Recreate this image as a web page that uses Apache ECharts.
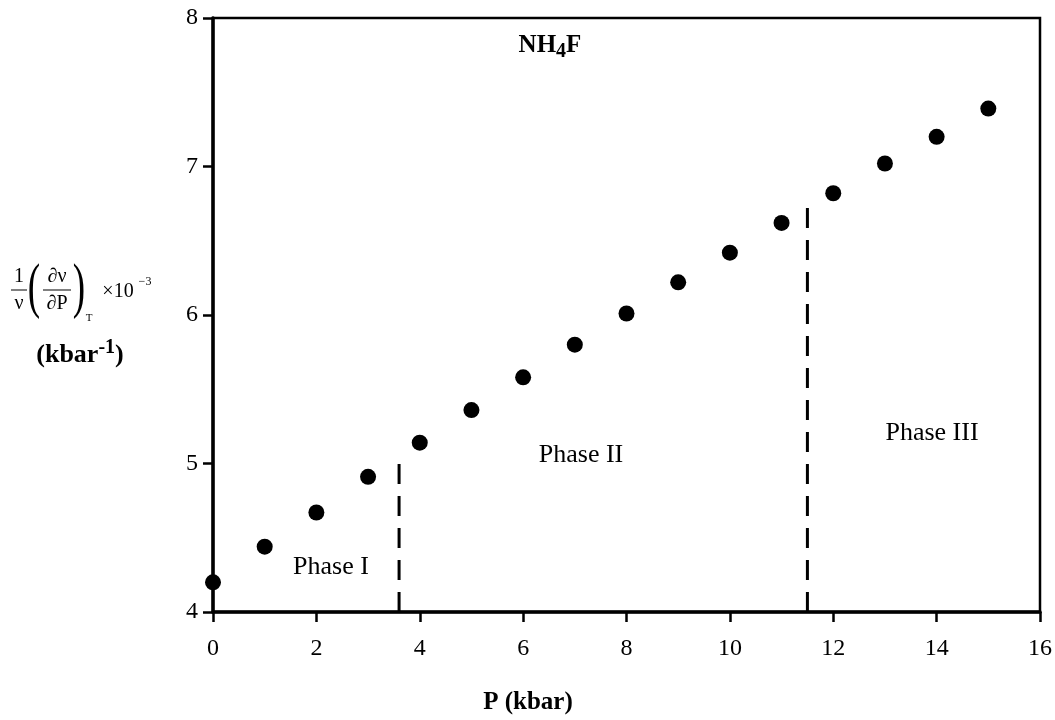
<!DOCTYPE html>
<html>
<head>
<meta charset="utf-8">
<script src="https://cdn.jsdelivr.net/npm/echarts@6/dist/echarts.min.js"></script>
<style>
  html, body { margin: 0; padding: 0; background: #fff; }
  #chart { width: 1055px; height: 720px; }
</style>
</head>
<body>
<div id="chart"></div>
<script>
  // pressure (kbar) and compressibility readings
  let pressure = [0, 1, 2, 3, 4, 5, 6, 7, 8, 9, 10, 11, 12, 13, 14, 15];
  let compress = [4.20, 4.44, 4.67, 4.91, 5.14, 5.36, 5.58, 5.80, 6.01, 6.22, 6.42, 6.62, 6.82, 7.02, 7.20, 7.39];
  // phase boundaries: [pressure, top of dashed line]
  let boundaryI = [3.6, 5.07];
  let boundaryII = [11.5, 6.75];
  let phaseNames = ['Phase I', 'Phase II', 'Phase III'];

  let font = '"Liberation Serif", "Times New Roman", serif';
  let chart = echarts.init(document.getElementById('chart'));

  let points = pressure.map((p, i) => [p, compress[i]]);

  function txt(x, y, s, f, extra) {
    return Object.assign({
      type: 'text', x: x, y: y,
      style: { text: s, font: f + ' ' + font, fill: '#000', align: 'center', verticalAlign: 'middle' }
    }, extra || {});
  }

  let options = {
    animation: false,
    grid: {
      left: 213,
      right: 15,
      top: 18,
      bottom: 108,
      show: true,
      borderColor: '#000',
      borderWidth: 2.5
    },
    xAxis: {
      type: 'value',
      min: 0,
      max: 16,
      interval: 2,
      splitLine: { show: false },
      axisLine: { onZero: false, lineStyle: { color: '#000', width: 3.5 } },
      axisTick: { show: true, length: 10, lineStyle: { color: '#000', width: 2.5 } },
      axisLabel: { color: '#000', fontFamily: font, fontSize: 24, margin: 25 }
    },
    yAxis: {
      type: 'value',
      min: 4,
      max: 8,
      interval: 1,
      splitLine: { show: false },
      axisLine: { onZero: false, lineStyle: { color: '#000', width: 3.5 } },
      axisTick: { show: true, length: 10, lineStyle: { color: '#000', width: 2.5 } },
      axisLabel: { color: '#000', fontFamily: font, fontSize: 24, margin: 15 }
    },
    series: [
      {
        type: 'line',
        data: [[boundaryI[0], 4], [boundaryI[0], boundaryI[1]]],
        symbol: 'none',
        lineStyle: { color: '#000', width: 3, type: [20, 12] },
        z: 2
      },
      {
        type: 'line',
        data: [[boundaryII[0], 4], [boundaryII[0], boundaryII[1]]],
        symbol: 'none',
        lineStyle: { color: '#000', width: 3, type: [20, 12] },
        z: 2
      },
      {
        type: 'scatter',
        data: points,
        symbol: 'circle',
        symbolSize: 16,
        itemStyle: { color: '#000', opacity: 1 },
        z: 5
      }
    ],
    graphic: [
      // title
      {
        type: 'text', x: 550, y: 46,
        style: {
          rich: {
            b: { fontFamily: font, fontSize: 25, fontWeight: 'bold', fill: '#000' },
            s: { fontFamily: font, fontSize: 20, fontWeight: 'bold', fill: '#000', padding: [12, 0, 0, 0] }
          },
          text: '{b|NH}{s|4}{b|F}',
          align: 'center', verticalAlign: 'middle'
        }
      },
      // phase labels
      txt(331, 567, phaseNames[0], '26px'),
      txt(581, 455, phaseNames[1], '26px'),
      txt(932, 433, phaseNames[2], '26px'),
      // x axis name
      txt(528, 703, 'P (kbar)', 'bold 25px'),
      // y axis name: 1/ν (∂ν/∂P)_T ×10^-3
      txt(19, 277, '1', '20px'),
      { type: 'line', shape: { x1: 11, y1: 290, x2: 27, y2: 290 }, style: { stroke: '#000', lineWidth: 1 } },
      txt(19, 304, 'ν', '20px'),
      txt(34, 290, '(', '62px', { scaleX: 0.6, originX: 0, originY: 0 }),
      txt(57, 277, '∂ν', '20px'),
      { type: 'line', shape: { x1: 43, y1: 290, x2: 71, y2: 290 }, style: { stroke: '#000', lineWidth: 1 } },
      txt(57, 304, '∂P', '20px'),
      txt(79, 290, ')', '62px', { scaleX: 0.6, originX: 0, originY: 0 }),
      txt(89, 318, 'T', '11px'),
      txt(118, 292, '×10', '20px'),
      txt(145, 282, '−3', '12px'),
      {
        type: 'text', x: 80, y: 355,
        style: {
          rich: {
            b: { fontFamily: font, fontSize: 26, fontWeight: 'bold', fill: '#000' },
            s: { fontFamily: font, fontSize: 20, fontWeight: 'bold', fill: '#000', padding: [0, 0, 14, 0] }
          },
          text: '{b|(kbar}{s|-1}{b|)}',
          align: 'center', verticalAlign: 'middle'
        }
      }
    ]
  };

  chart.setOption(options);
</script>
</body>
</html>
